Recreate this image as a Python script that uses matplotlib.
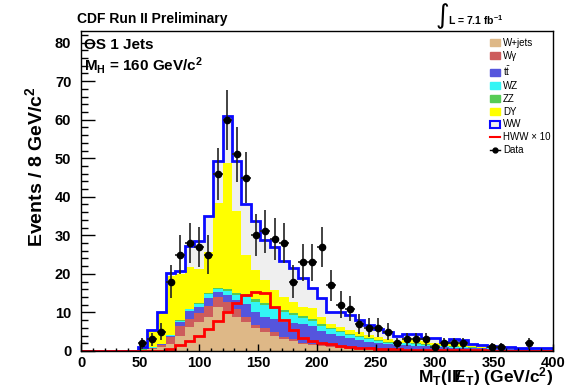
import numpy as np
import matplotlib
matplotlib.use("Agg")
import matplotlib.pyplot as plt
from matplotlib.patches import Patch
from matplotlib.lines import Line2D

plt.rcParams['font.family'] = ['Liberation Sans', 'DejaVu Sans']
plt.rcParams['mathtext.fontset'] = 'custom'
plt.rcParams['mathtext.rm'] = 'Liberation Sans'
plt.rcParams['mathtext.it'] = 'Liberation Sans:italic'
plt.rcParams['mathtext.bf'] = 'Liberation Sans:bold'

# 8 GeV bins from 0 to 400
edges = np.arange(0, 401, 8)

# expected events per bin, one list per process (stacked bottom to top)
wjets = [0, 0, 0, 0, 0, 0,
         0.2, 0.5, 1.0, 1.8, 3.9, 6.1, 7.6, 8.9, 11.3, 10.2, 8.9, 7.6, 5.9, 5.0, 4.0,
         3.0, 2.6, 1.8, 1.5, 1.2, 1.0, 0.8, 0.6, 0.5, 0.4, 0.35, 0.3, 0.25, 0.2, 0.2,
         0.15, 0.15, 0.1, 0.1, 0.1, 0.08, 0.07, 0.06, 0.05, 0.05, 0.04, 0.04, 0.03, 0.03]
wgamma = [0, 0, 0, 0, 0, 0,
          0.1, 0.3, 0.6, 1.8, 2.6, 2.1, 2.2, 2.8, 2.8, 2.4, 1.9, 1.3, 0.9, 1.0, 0.8,
          0.6, 0.5, 0.4, 0.35, 0.3, 0.25, 0.2, 0.2, 0.15, 0.1, 0.1, 0.1, 0.08, 0.08, 0.06,
          0.05, 0.05, 0.05, 0.05, 0.04, 0.04, 0.03, 0.03, 0.03, 0.02, 0.02, 0.01, 0.02, 0.01]
ttbar = [0, 0, 0, 0, 0, 0,
         0.0, 0.05, 0.1, 0.3, 0.9, 2.2, 1.7, 2.0, 1.3, 1.9, 2.4, 3.2, 3.4, 2.9, 3.4,
         4.0, 4.2, 4.8, 4.55, 3.8, 3.25, 2.9, 2.5, 2.25, 1.9, 1.55, 1.3, 1.17, 1.22, 1.14,
         1.0, 0.9, 0.85, 0.75, 0.71, 0.63, 0.55, 0.51, 0.47, 0.43, 0.39, 0.37, 0.33, 0.31]
wz = [0, 0, 0, 0, 0, 0,
      0.05, 0.1, 0.15, 0.2, 0.4, 0.4, 0.6, 1.1, 0.7, 1.1, 1.3, 2.0, 2.6, 3.0, 2.7,
      2.4, 2.0, 1.6, 1.5, 1.3, 1.1, 1.0, 0.9, 0.8, 0.7, 0.6, 0.5, 0.4, 0.5, 0.4,
      0.4, 0.3, 0.25, 0.25, 0.2, 0.15, 0.15, 0.1, 0.07, 0.07, 0.05, 0.05, 0.04, 0.04]
zz = [0, 0, 0, 0, 0, 0,
      0.05, 0.05, 0.05, 0.1, 0.2, 0.2, 0.3, 0.3, 0.3, 0.4, 0.5, 0.6, 0.6, 0.6, 0.6,
      0.6, 0.5, 0.5, 0.5, 0.4, 0.3, 0.3, 0.3, 0.3, 0.2, 0.2, 0.2, 0.2, 0.2, 0.2,
      0.1, 0.1, 0.1, 0.1, 0.1, 0.1, 0.05, 0.05, 0.05, 0.03, 0.04, 0.03, 0.03, 0.03]
dy = [0, 0, 0, 0, 0, 0,
      0.4, 4.2, 8.1, 15.3, 12.0, 10.7, 8.9, 10.5, 21.9, 32.7, 21.2, 10.1, 7.6, 5.9, 4.3,
      3.5, 3.0, 2.4, 2.8, 1.9, 1.1, 0.9, 1.0, 1.0, 0.9, 0.8, 0.6, 0.4, 1.1, 1.3,
      0.9, 0.5, 0.45, 0.85, 0.95, 0.3, 0.25, 0.2, 0.18, 0.2, 0.16, 0.2, 0.15, 0.13]
ww = [0, 0, 0, 0, 0, 0,
      0.2, 0.3, 0.2, 0.7, 0.8, 5.6, 7.3, 9.5, 11.1, 12.3, 13.0, 13.2, 12.8, 10.4, 11.3,
      9.3, 8.7, 7.4, 5.2, 4.8, 3.2, 3.9, 3.9, 3.0, 2.6, 2.2, 1.8, 1.3, 1.1, 1.1,
      0.9, 1.3, 0.5, 0.9, 0.8, 0.5, 0.4, 0.25, 0.25, 0.2, 0.2, 0.2, 0.2, 0.15]

# signal, scaled by 10 and drawn on its own
hww_x10 = [0, 0, 0, 0, 0, 0, 0, 0, 0,
           0.6, 1.5, 2.7, 4.0, 5.8, 7.8, 10.2, 12.4, 14.5, 15.4, 15.1, 11.5,
           8.0, 5.5, 3.5, 2.5, 2.2, 1.8, 1.4, 1.1, 0.9, 0.7, 0.6, 0.5, 0.4, 0.35, 0.3,
           0.25, 0.2, 0.2, 0.18, 0.16, 0.15, 0.14, 0.12, 0.1, 0.1, 0.08, 0.08, 0.06, 0.05]

# observed events
data = [0, 0, 0, 0, 0, 0,
        2, 3, 5, 18, 25, 28, 27, 25, 46, 60, 51, 45, 30, 31, 29,
        28, 18, 23, 23, 27, 17, 12, 11, 7, 6, 6, 5, 2, 3, 3,
        3, 1, 2, 2, 2, 0, 0, 1, 1, 0, 0, 2, 0, 0]

labels = ['W+jets', 'W\u03b3', 't$\\bar{\\mathrm{t}}$', 'WZ', 'ZZ', 'DY', 'WW']
colors = ['#deb887', '#cd5c5c', '#5555dd', '#33f5f5', '#55cc55', '#ffff00', '#efefef']
stack = [wjets, wgamma, ttbar, wz, zz, dy, ww]

fig = plt.figure(figsize=(5.76, 3.91), dpi=100)
ax = fig.add_axes([81 / 576, 40 / 391, 472 / 576, 320 / 391])

bottom = np.zeros(len(edges) - 1)
for vals, c in zip(stack, colors):
    top = bottom + np.array(vals)
    ax.stairs(top, edges, baseline=bottom, fill=True, color=c, lw=0)
    bottom = top

ax.stairs(bottom, edges, color='#0a0aff', lw=2)
ax.stairs(hww_x10, edges, color='#ff0000', lw=2)

counts = np.array(data, dtype=float)
centers = 0.5 * (edges[:-1] + edges[1:])
m = counts > 0
ax.errorbar(centers[m], counts[m], xerr=4, yerr=np.sqrt(counts[m]), fmt='o',
            color='black', ecolor='#222222', ms=4.5, elinewidth=1.2, capsize=0, zorder=5)

ax.set_xlim(0, 400)
ax.set_ylim(0, 83)
ax.set_xticks(np.arange(0, 401, 50))
ax.set_xticks(np.arange(0, 401, 10), minor=True)
ax.set_yticks(np.arange(0, 81, 10))
ax.set_yticks(np.arange(0, 83, 2), minor=True)
ax.tick_params(axis='both', which='both', direction='in', top=False, right=False,
               labelsize=10.5, width=1)
ax.tick_params(axis='y', which='major', length=10, pad=7)
ax.tick_params(axis='y', which='minor', length=5)
ax.tick_params(axis='x', which='major', length=5, pad=3.5)
ax.tick_params(axis='x', which='minor', length=2.5)
for t in ax.get_xticklabels() + ax.get_yticklabels():
    t.set_fontweight('bold')
for s in ax.spines.values():
    s.set_linewidth(1)

# legend
handles = [Patch(facecolor=c, edgecolor=c) for c in colors[:-1]]
handles.append(Patch(facecolor='#efefef', edgecolor='#0a0aff', lw=1.5))
handles.append(Line2D([], [], color='red', lw=1.5))
handles.append(Line2D([], [], color='black', lw=1, marker='o', ms=3.5))
leg_labels = labels + ['HWW \u00d7 10', 'Data']
fig.legend(handles, leg_labels, loc='upper left',
           bbox_to_anchor=(490 / 576, 1 - 38 / 391), frameon=False,
           fontsize=7, handlelength=1.05, handleheight=0.75, handletextpad=0.3,
           labelspacing=0.3, borderpad=0, borderaxespad=0)

# titles and annotations
fig.text(77 / 576, 1 - 22.5 / 391, 'CDF Run II Preliminary', fontsize=10,
         fontweight='bold', va='baseline')
fig.text(436 / 576, 1 - 16 / 391, '\u222b', family='DejaVu Sans', fontsize=19,
         va='center')
fig.text(448 / 576, 1 - 25 / 391, 'L = 7.1 fb$^{\\mathbf{-1}}$', fontsize=7.5,
         fontweight='bold', va='baseline')
fig.text(84 / 576, 1 - 49 / 391, 'OS 1 Jets', fontsize=11, fontweight='bold',
         va='baseline')
fig.text(84 / 576, 1 - 71 / 391, 'M$_\\mathbf{H}$ = 160 GeV/c$^\\mathbf{2}$',
         fontsize=11, fontweight='bold', va='baseline')

fig.text(553 / 576, 1 - 382 / 391,
         'M$_\\mathbf{T}$(ll$\\mathbf{/}\\!\\!\\!\\mathbf{E}_\\mathbf{T}$) (GeV/c$^\\mathbf{2}$)',
         fontsize=12.5, fontweight='bold', ha='right', va='baseline')
fig.text(35 / 576, 1 - 167 / 391, 'Events / 8 GeV/c$^\\mathbf{2}$', fontsize=14,
         fontweight='bold', rotation=90, ha='center', va='center')

fig.savefig('out.png', dpi=100)
